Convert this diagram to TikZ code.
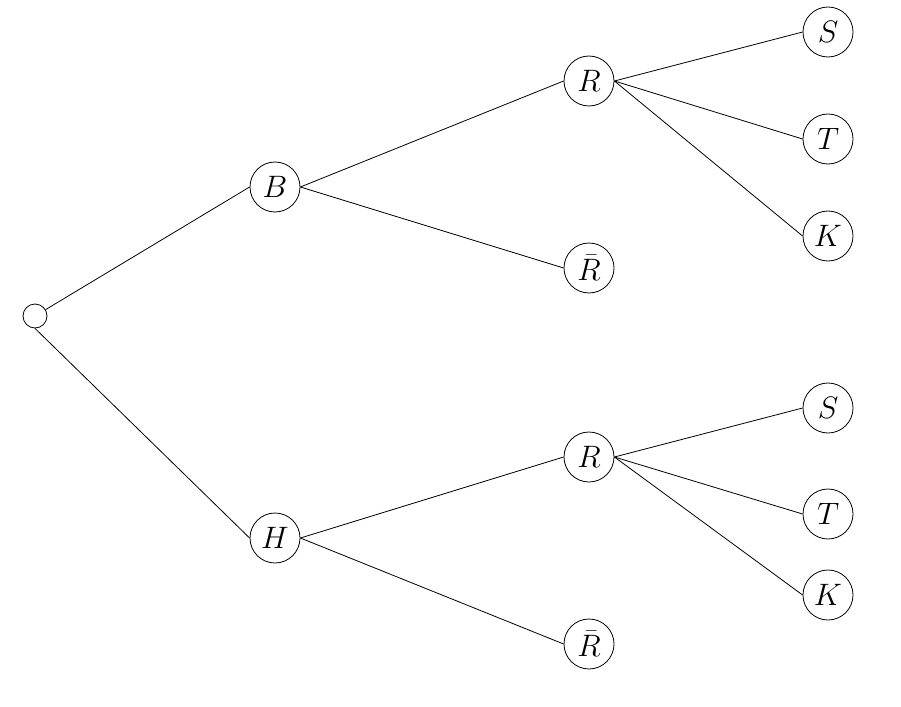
\RequirePackage{fix-cm}
\documentclass[tikz,border=0pt]{standalone}
\begin{document}
\begin{tikzpicture}[x=1pt,y=-1pt,
  st/.style={circle,draw,line width=0.8pt,minimum size=50pt,inner sep=0pt,font=\fontsize{31}{36}\selectfont},
  rootst/.style={circle,draw,line width=0.8pt,minimum size=24pt,inner sep=0pt},
  edge/.style={line width=0.8pt}]
\useasboundingbox (0,0) rectangle (901,706);
\node[rootst] (root) at (35,316) {};
\node[st] (B) at (275,187) {$B$};
\node[st] (H) at (275,538) {$H$};
\node[st] (R1) at (589,81) {$R$};
\node[st] (Rb1) at (589,268) {$\bar{R}$};
\node[st] (R2) at (589,457) {$R$};
\node[st] (Rb2) at (589,644) {$\bar{R}$};
\node[st] (S1) at (828,32) {$S$};
\node[st] (T1) at (828,139) {$T$};
\node[st] (K1) at (828,236) {$K$};
\node[st] (S2) at (828,408) {$S$};
\node[st] (T2) at (828,514) {$T$};
\node[st] (K2) at (828,595) {$K$};
\draw[edge] (root) -- (B.west);
\draw[edge] (root.south) -- (H.west);
\draw[edge] (B.east) -- (R1.west);
\draw[edge] (B.east) -- (Rb1.west);
\draw[edge] (H.east) -- (R2.west);
\draw[edge] (H.east) -- (Rb2.west);
\draw[edge] (R1.east) -- (S1.west);
\draw[edge] (R1.east) -- (T1.west);
\draw[edge] (R1.east) -- (K1.west);
\draw[edge] (R2.east) -- (S2.west);
\draw[edge] (R2.east) -- (T2.west);
\draw[edge] (R2.east) -- (K2.west);
\end{tikzpicture}
\end{document}
